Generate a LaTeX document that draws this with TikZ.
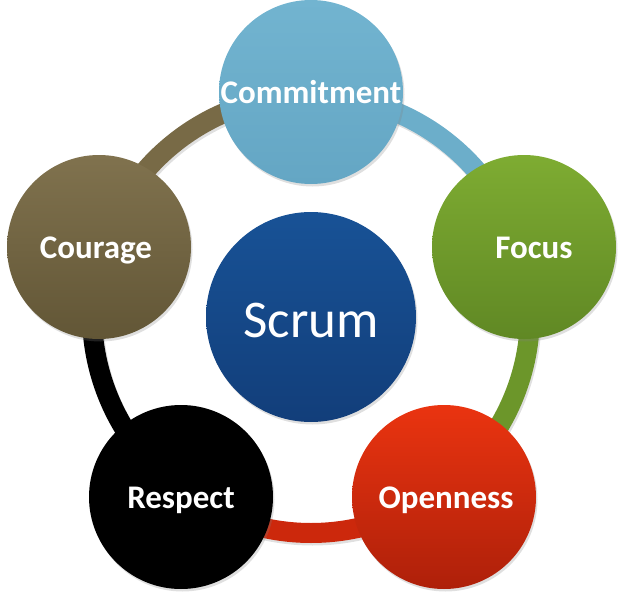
\documentclass[tikz,border=0pt]{standalone}
\usepackage{fontspec}
\setmainfont{Carlito}
\usetikzlibrary{shadows}
\definecolor{cmtTop}{RGB}{114,180,208}
\definecolor{cmtBot}{RGB}{100,166,196}
\definecolor{focTop}{RGB}{126,172,50}
\definecolor{focBot}{RGB}{96,136,36}
\definecolor{opnTop}{RGB}{234,52,16}
\definecolor{opnBot}{RGB}{174,32,10}
\definecolor{couTop}{RGB}{128,114,78}
\definecolor{couBot}{RGB}{98,86,54}
\definecolor{scrTop}{RGB}{24,82,150}
\definecolor{scrBot}{RGB}{18,62,122}
\definecolor{arcBlue}{RGB}{108,174,202}
\definecolor{arcGreen}{RGB}{108,150,42}
\definecolor{arcRed}{RGB}{204,40,12}
\definecolor{arcBrown}{RGB}{120,106,70}
\begin{document}
\begin{tikzpicture}[x=1pt,y=1pt,
  ringarc/.style={line width=20pt},
  ringshadow/.style={line width=20pt, draw=black, opacity=0.12},
  valcircle/.style={circle, minimum size=184pt, inner sep=0pt, text=white,
    font=\bfseries\fontsize{33}{33}\selectfont, text height=25pt, text depth=2pt,
    drop shadow={opacity=0.25, shadow xshift=1.5pt, shadow yshift=-2.5pt}},
  corecircle/.style={circle, minimum size=210pt, inner sep=0pt, text=white,
    font=\fontsize{53}{53}\selectfont, text height=40pt, text depth=0pt,
    drop shadow={opacity=0.25, shadow xshift=1.5pt, shadow yshift=-2.5pt}}]
\useasboundingbox (0,0) rectangle (622,-600);
\coordinate (ringc) at (311,-314);
\coordinate (ringcs) at (312.5,-316.5);
% ring shadows
\foreach \a/\b in {90/18,18/-54,-54/-126,-126/-198,162/90}{
  \draw[ringshadow] ([shift={(\a:219)}]ringcs) arc[start angle=\a, end angle=\b, radius=219];
}
% ring arcs
\draw[ringarc, arcBlue]  ([shift={(90:219)}]ringc)   arc[start angle=90,   end angle=18,   radius=219];
\draw[ringarc, arcGreen] ([shift={(18:219)}]ringc)   arc[start angle=18,   end angle=-54,  radius=219];
\draw[ringarc, arcRed]   ([shift={(-54:219)}]ringc)  arc[start angle=-54,  end angle=-126, radius=219];
\draw[ringarc, black]    ([shift={(-126:219)}]ringc) arc[start angle=-126, end angle=-198, radius=219];
\draw[ringarc, arcBrown] ([shift={(162:219)}]ringc)  arc[start angle=162,  end angle=90,   radius=219];
% circles
\node[valcircle, top color=cmtTop, bottom color=cmtBot] (commit) at (311,-92) {Commitment};
\node[valcircle, top color=focTop, bottom color=focBot] (focus) at (524,-247) {\hspace*{20pt}Focus};
\node[valcircle, top color=opnTop, bottom color=opnBot] (open) at (444,-497) {\hspace*{4pt}Openness};
\node[valcircle, fill=black] (respect) at (181,-497) {Respect};
\node[valcircle, top color=couTop, bottom color=couBot] (courage) at (99,-247) {Courage\hspace*{6pt}};
\node[corecircle, top color=scrTop, bottom color=scrBot] (scrum) at (311,-317) {Scrum};
\end{tikzpicture}
\end{document}
